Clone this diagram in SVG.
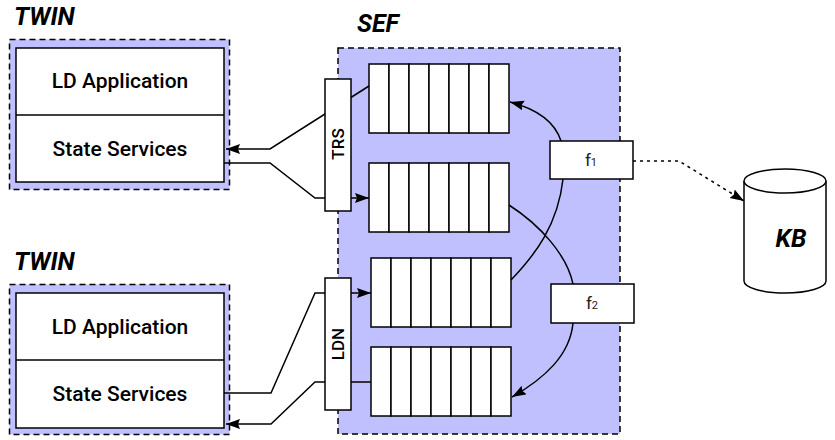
<svg xmlns="http://www.w3.org/2000/svg" width="835" height="440" viewBox="0 0 835 440">
  <style>
    .zone { fill: #c0c0ff; stroke: #000; stroke-width: 1.5; stroke-dasharray: 6 4; }
    .box { fill: #fff; stroke: #000; stroke-width: 1.5; }
    .cell { fill: #fff; stroke: #000; stroke-width: 1.5; }
    .title { font-family: Roboto, "Liberation Sans", sans-serif; font-weight: 700; font-style: italic; font-size: 25px; fill: #000; }
    .label { font-family: Roboto, "Liberation Sans", sans-serif; font-weight: 500; font-size: 21px; fill: #000; text-anchor: middle; }
    .port { font-family: Roboto, "Liberation Sans", sans-serif; font-weight: 500; font-size: 17px; fill: #000; text-anchor: middle; }
    .fn { font-family: Roboto, "Liberation Sans", sans-serif; font-size: 17px; fill: #222; text-anchor: middle; }
    .edge { fill: none; stroke: #000; stroke-width: 1.5; }
    .dotted { fill: none; stroke: #000; stroke-width: 1.5; stroke-dasharray: 3 4; }
  </style>
  <defs>
    <marker id="arrow" markerUnits="userSpaceOnUse" markerWidth="16" markerHeight="12" refX="14" refY="5" orient="auto">
      <path d="M0,0 L14,5 L0,10 L2,5 z" fill="#000"/>
    </marker>
    <g id="queue">
      <rect class="cell" x="0" y="0" width="20" height="69"/>
      <rect class="cell" x="20" y="0" width="20" height="69"/>
      <rect class="cell" x="40" y="0" width="20" height="69"/>
      <rect class="cell" x="60" y="0" width="20" height="69"/>
      <rect class="cell" x="80" y="0" width="20" height="69"/>
      <rect class="cell" x="100" y="0" width="20" height="69"/>
      <rect class="cell" x="120" y="0" width="20" height="69"/>
    </g>
  </defs>

  <!-- upper twin -->
  <g id="twin-top">
    <text class="title" x="14" y="25">TWIN</text>
    <rect class="zone" x="9.5" y="39.5" width="220" height="150"/>
    <rect class="box" x="16" y="48" width="208" height="134"/>
    <line x1="16" y1="115" x2="224" y2="115" stroke="#000" stroke-width="1.5"/>
    <text class="label" x="120" y="88">LD Application</text>
    <text class="label" x="120" y="156">State Services</text>
  </g>

  <!-- lower twin -->
  <g id="twin-bottom">
    <text class="title" x="14" y="270">TWIN</text>
    <rect class="zone" x="9.5" y="284.5" width="220" height="150"/>
    <rect class="box" x="16" y="293" width="208" height="135"/>
    <line x1="16" y1="360" x2="224" y2="360" stroke="#000" stroke-width="1.5"/>
    <text class="label" x="120" y="334">LD Application</text>
    <text class="label" x="120" y="401">State Services</text>
  </g>

  <!-- event fabric -->
  <g id="sef">
    <text class="title" x="357" y="32" font-size="26">SEF</text>
    <rect class="zone" x="338" y="48" width="282" height="386"/>
  </g>

  <g id="queue-1"><use href="#queue" x="369" y="64"/></g>
  <g id="queue-2"><use href="#queue" x="369" y="163"/></g>
  <g id="queue-3"><use href="#queue" x="371" y="258"/></g>
  <g id="queue-4"><use href="#queue" x="371" y="347"/></g>

  <g id="kb">
    <path class="box" d="M744,181 L744,281 A41,12 0 0 0 826,281 L826,181"/>
    <ellipse class="box" cx="785" cy="181" rx="41" ry="12"/>
    <text class="title" x="791" y="247" text-anchor="middle" font-size="27">KB</text>
  </g>

  <!-- connectors -->
  <g id="connectors">
    <path class="edge" d="M369,86 L270,149 L226,149" marker-end="url(#arrow)"/>
    <path class="edge" d="M224,163 L270,163 L315,198 L369,198" marker-end="url(#arrow)"/>
    <path class="edge" d="M224,393 L271,393 L315,293 L371,293" marker-end="url(#arrow)"/>
    <path class="edge" d="M371,382 L315,382 L271,424 L226,424" marker-end="url(#arrow)"/>
    <path class="edge" d="M561,141 Q552,113 510,102" marker-end="url(#arrow)"/>
    <path class="edge" d="M563,179 C558,225 535,255 511,280"/>
    <path class="edge" d="M509,205 C540,225 567,255 573,284"/>
    <path class="edge" d="M573,323 C570,355 545,378 512,397" marker-end="url(#arrow)"/>
    <path class="dotted" d="M633,161 L679,161 L744,201" marker-end="url(#arrow)"/>
  </g>

  <g id="trs">
    <rect class="box" x="325" y="79" width="26" height="132"/>
    <text class="port" transform="translate(344,144) rotate(-90)">TRS</text>
  </g>
  <g id="ldn">
    <rect class="box" x="325" y="278" width="26" height="132"/>
    <text class="port" transform="translate(344,344) rotate(-90)">LDN</text>
  </g>

  <g id="f1">
    <rect class="box" x="550" y="141" width="83" height="38"/>
    <text class="fn" x="591" y="166">f<tspan font-size="11">1</tspan></text>
  </g>
  <g id="f2">
    <rect class="box" x="551" y="284" width="83" height="39"/>
    <text class="fn" x="592" y="309">f<tspan font-size="11">2</tspan></text>
  </g>
</svg>
